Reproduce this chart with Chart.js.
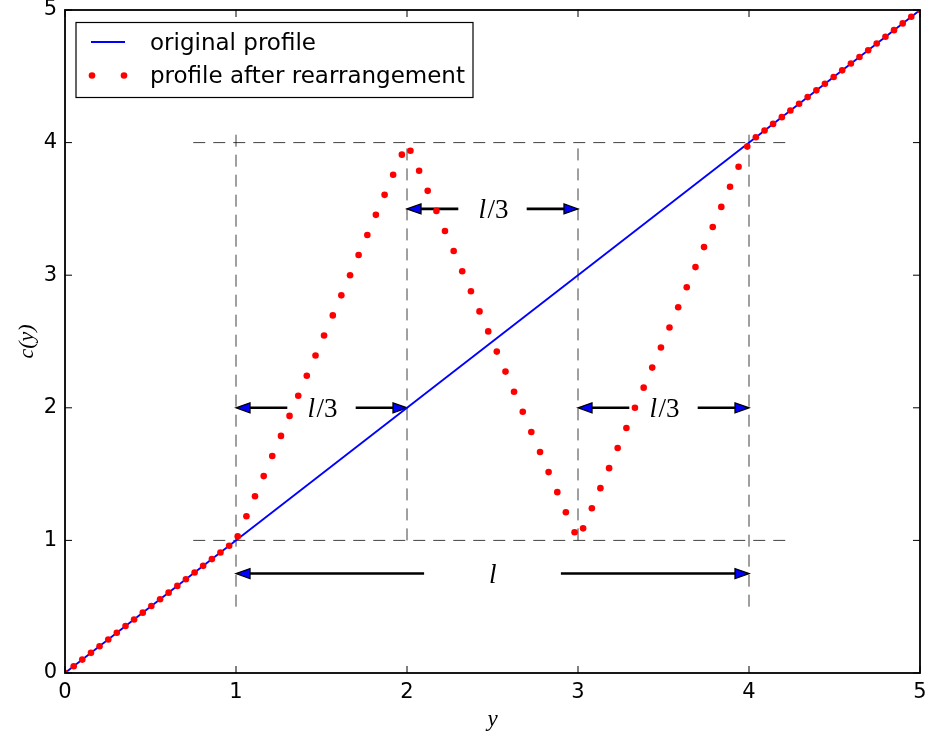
<!DOCTYPE html>
<html>
<head>
<meta charset="utf-8">
<script src="https://cdn.jsdelivr.net/npm/chart.js@4.4.1/dist/chart.umd.min.js"></script>
<style>
  html, body { margin: 0; padding: 0; background: #ffffff; }
  #wrap { width: 930px; height: 740px; }
</style>
</head>
<body>
<div id="wrap"><canvas id="chart" width="930" height="740"></canvas></div>
<script>
// Sample positions along y
const samplePos = [
  0, 0.051, 0.101, 0.152, 0.202, 0.253, 0.303, 0.354, 0.404, 0.455,
  0.505, 0.556, 0.606, 0.657, 0.707, 0.758, 0.808, 0.859, 0.909, 0.960,
  1.010, 1.061, 1.111, 1.162, 1.212, 1.263, 1.313, 1.364, 1.414, 1.465,
  1.515, 1.566, 1.616, 1.667, 1.717, 1.768, 1.818, 1.869, 1.919, 1.970,
  2.020, 2.071, 2.121, 2.172, 2.222, 2.273, 2.323, 2.374, 2.424, 2.475,
  2.525, 2.576, 2.626, 2.677, 2.727, 2.778, 2.828, 2.879, 2.929, 2.980,
  3.030, 3.081, 3.131, 3.182, 3.232, 3.283, 3.333, 3.384, 3.434, 3.485,
  3.535, 3.586, 3.636, 3.687, 3.737, 3.788, 3.838, 3.889, 3.939, 3.990,
  4.040, 4.091, 4.141, 4.192, 4.242, 4.293, 4.343, 4.394, 4.444, 4.495,
  4.545, 4.596, 4.646, 4.697, 4.747, 4.798, 4.848, 4.899, 4.949, 5
];

// Concentration at each sample position after the rearrangement
const rearranged = [
  0, 0.051, 0.101, 0.152, 0.202, 0.253, 0.303, 0.354, 0.404, 0.455,
  0.505, 0.556, 0.606, 0.657, 0.707, 0.758, 0.808, 0.859, 0.909, 0.960,
  1.030, 1.182, 1.333, 1.485, 1.636, 1.788, 1.939, 2.091, 2.242, 2.394,
  2.545, 2.697, 2.848, 3.000, 3.152, 3.303, 3.455, 3.606, 3.758, 3.909,
  3.939, 3.788, 3.636, 3.485, 3.333, 3.182, 3.030, 2.879, 2.727, 2.576,
  2.424, 2.273, 2.121, 1.970, 1.818, 1.667, 1.515, 1.364, 1.212, 1.061,
  1.091, 1.242, 1.394, 1.545, 1.697, 1.848, 2.000, 2.152, 2.303, 2.455,
  2.606, 2.758, 2.909, 3.061, 3.212, 3.364, 3.515, 3.667, 3.818, 3.970,
  4.040, 4.091, 4.141, 4.192, 4.242, 4.293, 4.343, 4.394, 4.444, 4.495,
  4.545, 4.596, 4.646, 4.697, 4.747, 4.798, 4.848, 4.899, 4.949, 5
];

// Original linear profile
const originalPos = [0, 5];
const originalVal = [0, 5];

// Axis ticks
const tickValues = [0, 1, 2, 3, 4, 5];

// Dashed guide segments: [x0, y0, x1, y1]
const guides = [
  [0.75, 4, 4.25, 4],
  [0.75, 1, 4.25, 1],
  [1, 0.5, 1, 4.1],
  [2, 1, 2, 4],
  [3, 1, 3, 4],
  [4, 0.5, 4, 4.1]
];

// Dimension arrows: [tailX, tailY, headX, headY]
const arrows = [
  [1.3, 2, 1.0, 2], [1.7, 2, 2.0, 2],
  [2.3, 3.5, 2.0, 3.5], [2.7, 3.5, 3.0, 3.5],
  [3.3, 2, 3.0, 2], [3.7, 2, 4.0, 2],
  [2.1, 0.75, 1.0, 0.75], [2.9, 0.75, 4.0, 0.75]
];

// Arrow labels: [italic part, upright part, x, y]
const arrowLabels = [
  ['l', '/3', 1.5, 2],
  ['l', '/3', 2.5, 3.5],
  ['l', '/3', 3.5, 2],
  ['l', '', 2.5, 0.75]
];

const seriesNames = ['profile after rearrangement', 'original profile'];

const SERIF = '"Liberation Serif", "DejaVu Serif", serif';
const SANS = '"DejaVu Sans", sans-serif';

const datasets = [
  {
    label: seriesNames[0],
    data: samplePos.map((x, i) => ({ x: x, y: rearranged[i] })),
    showLine: false,
    pointRadius: 3.3,
    pointBackgroundColor: '#ff0000',
    pointBorderWidth: 0,
    clip: 0
  },
  {
    label: seriesNames[1],
    data: originalPos.map((x, i) => ({ x: x, y: originalVal[i] })),
    showLine: true,
    borderColor: '#0000ff',
    borderWidth: 1.8,
    pointRadius: 0,
    clip: 0
  }
].concat(guides.map(g => ({
  label: '',
  data: [{ x: g[0], y: g[1] }, { x: g[2], y: g[3] }],
  showLine: true,
  borderColor: 'rgba(0,0,0,0.75)',
  borderWidth: 1,
  borderDash: [12, 8],
  pointRadius: 0,
  clip: false
})));

// Frame with inward ticks on all four sides
const framePlugin = {
  id: 'frame',
  afterDatasetsDraw(chart) {
    const { ctx, chartArea: a, scales: { x, y } } = chart;
    ctx.save();
    ctx.strokeStyle = '#000';
    ctx.lineWidth = 1;
    const tl = 7;
    ctx.beginPath();
    tickValues.forEach(v => {
      const px = x.getPixelForValue(v);
      ctx.moveTo(px, a.bottom); ctx.lineTo(px, a.bottom - tl);
      ctx.moveTo(px, a.top); ctx.lineTo(px, a.top + tl);
      const py = y.getPixelForValue(v);
      ctx.moveTo(a.left, py); ctx.lineTo(a.left + tl, py);
      ctx.moveTo(a.right, py); ctx.lineTo(a.right - tl, py);
    });
    ctx.stroke();
    ctx.lineWidth = 1.8;
    ctx.strokeRect(a.left, a.top, a.right - a.left, a.bottom - a.top);
    ctx.restore();
  }
};

// Dimension arrows and their labels
const arrowPlugin = {
  id: 'dimArrows',
  beforeDatasetsDraw(chart) {
    const { ctx, scales: { x, y } } = chart;
    ctx.save();
    arrows.forEach(a => {
      const x0 = x.getPixelForValue(a[0]), y0 = y.getPixelForValue(a[1]);
      const x1 = x.getPixelForValue(a[2]), y1 = y.getPixelForValue(a[3]);
      const len = Math.hypot(x1 - x0, y1 - y0);
      const ux = (x1 - x0) / len, uy = (y1 - y0) / len;
      const hl = 14, hw = 5;
      const bx = x1 - ux * hl, by = y1 - uy * hl;
      ctx.strokeStyle = '#000';
      ctx.lineWidth = 2.6;
      ctx.lineCap = 'butt';
      ctx.beginPath();
      ctx.moveTo(x0, y0);
      ctx.lineTo(bx, by);
      ctx.stroke();
      ctx.beginPath();
      ctx.moveTo(x1, y1);
      ctx.lineTo(bx - uy * hw, by + ux * hw);
      ctx.lineTo(bx + uy * hw, by - ux * hw);
      ctx.closePath();
      ctx.fillStyle = '#0000ff';
      ctx.fill();
      ctx.lineWidth = 1.3;
      ctx.lineJoin = 'miter';
      ctx.stroke();
    });
    const size = 27;
    const fItal = 'italic ' + size + 'px ' + SERIF;
    const fUp = size + 'px ' + SERIF;
    ctx.fillStyle = '#000';
    ctx.textBaseline = 'alphabetic';
    ctx.textAlign = 'left';
    arrowLabels.forEach(l => {
      ctx.font = fItal;
      const m1 = ctx.measureText(l[0]);
      ctx.font = fUp;
      const m2 = ctx.measureText(l[1]);
      const w = m1.width + 1.5 + m2.width;
      const cx = x.getPixelForValue(l[2]);
      const cy = y.getPixelForValue(l[3]);
      const asc = Math.max(m1.actualBoundingBoxAscent, l[1] ? m2.actualBoundingBoxAscent : 0);
      const desc = Math.max(m1.actualBoundingBoxDescent, l[1] ? m2.actualBoundingBoxDescent : 0);
      const base = cy + (asc - desc) / 2;
      const left = cx - w / 2 + 1;
      ctx.font = fItal;
      ctx.fillText(l[0], left, base);
      if (l[1]) {
        ctx.font = fUp;
        ctx.fillText(l[1], left + m1.width + 1.5, base);
      }
    });
    ctx.restore();
  }
};

// Boxed legend in the upper left of the plot area
const legendPlugin = {
  id: 'boxLegend',
  afterDraw(chart) {
    const { ctx, chartArea: a } = chart;
    const dsDots = chart.data.datasets[0];
    const dsLine = chart.data.datasets[1];
    const bx = a.left + 11, by = a.top + 12.5, bw = 397, bh = 75;
    ctx.save();
    ctx.fillStyle = '#fff';
    ctx.fillRect(bx, by, bw, bh);
    ctx.strokeStyle = '#000';
    ctx.lineWidth = 1.2;
    ctx.strokeRect(bx, by, bw, bh);
    // line entry
    ctx.strokeStyle = dsLine.borderColor;
    ctx.lineWidth = dsLine.borderWidth;
    ctx.beginPath();
    ctx.moveTo(bx + 15, by + 19.5);
    ctx.lineTo(bx + 49, by + 19.5);
    ctx.stroke();
    // marker entry
    ctx.fillStyle = dsDots.pointBackgroundColor;
    [bx + 16, bx + 48].forEach(px => {
      ctx.beginPath();
      ctx.arc(px, by + 53, dsDots.pointRadius, 0, Math.PI * 2);
      ctx.fill();
    });
    ctx.fillStyle = '#000';
    ctx.font = '23px ' + SANS;
    ctx.textBaseline = 'alphabetic';
    ctx.textAlign = 'left';
    ctx.fillText(dsLine.label, bx + 74, by + 27.5);
    ctx.fillText(dsDots.label, bx + 74, by + 60.5);
    ctx.restore();
  }
};

new Chart(document.getElementById('chart'), {
  type: 'scatter',
  data: { datasets: datasets },
  options: {
    responsive: false,
    devicePixelRatio: 1,
    animation: false,
    events: [],
    layout: { padding: { left: 0, right: 10, top: 10, bottom: 0 } },
    plugins: { legend: { display: false }, tooltip: { enabled: false } },
    scales: {
      x: {
        type: 'linear',
        min: 0, max: 5,
        afterBuildTicks: s => { s.ticks = tickValues.map(v => ({ value: v })); },
        afterFit: s => { s.height = 67; s.paddingLeft = 0; s.paddingRight = 0; },
        grid: { display: false, drawTicks: false, tickLength: 0 },
        border: { display: false },
        ticks: {
          padding: 7,
          color: '#000',
          maxRotation: 0,
          font: { family: SANS, size: 21 },
          callback: v => String(v)
        },
        title: {
          display: true,
          text: 'y',
          color: '#000',
          font: { family: SERIF, size: 23, style: 'italic' },
          padding: { top: 0, bottom: 6 }
        }
      },
      y: {
        type: 'linear',
        min: 0, max: 5,
        afterBuildTicks: s => { s.ticks = tickValues.map(v => ({ value: v })); },
        afterFit: s => { s.width = 65; s.paddingTop = 0; s.paddingBottom = 0; },
        grid: { display: false, drawTicks: false, tickLength: 0 },
        border: { display: false },
        ticks: {
          padding: 8,
          color: '#000',
          font: { family: SANS, size: 21 },
          callback: v => String(v)
        },
        title: {
          display: true,
          text: 'c(y)',
          color: '#000',
          font: { family: SERIF, size: 22, style: 'italic' },
          padding: { top: 14, bottom: 0 }
        }
      }
    }
  },
  plugins: [arrowPlugin, framePlugin, legendPlugin]
});
</script>
</body>
</html>
